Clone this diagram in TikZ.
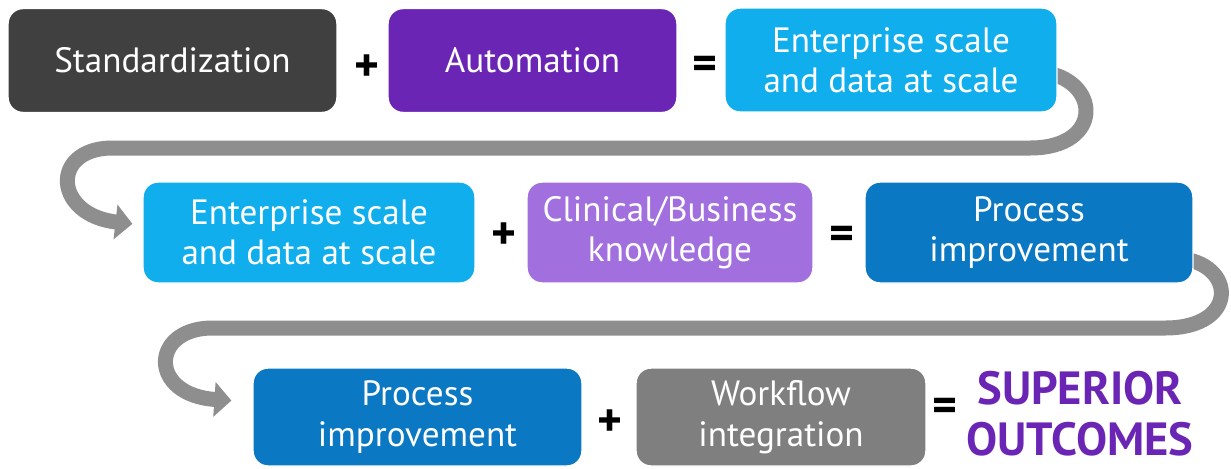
\documentclass[tikz,border=0pt]{standalone}
\usepackage{fontspec}
\setmainfont{PT Sans}
\usepackage{tikz}
\usetikzlibrary{arrows.meta}
\usetikzlibrary{backgrounds}

\definecolor{darkbox}{HTML}{404040}
\definecolor{purplebox}{HTML}{6A25B5}
\definecolor{skybox}{HTML}{10AEEC}
\definecolor{lilacbox}{HTML}{A26FDE}
\definecolor{bluebox}{HTML}{0A78C2}
\definecolor{greybox}{HTML}{7F7F7F}
\definecolor{ribbon}{HTML}{8E8E8E}

\tikzset{
  term/.style={shape=rectangle, rounded corners=0.3cm, draw=white, line width=0.8pt, text=white, align=center, inner sep=0pt, font=\fontsize{20}{23}\selectfont},
  op/.style={inner sep=0pt, font=\fontsize{27}{27}\bfseries\selectfont},
  turn/.style={draw=ribbon, line width=0.3cm, -{Triangle[length=0.34cm,width=0.68cm]}},
  result/.style={inner sep=0pt, align=center, text=purplebox, font=\fontsize{26.5}{29}\bfseries\selectfont},
}

\begin{document}
\begin{tikzpicture}[x=0.02cm, y=-0.02cm]
\useasboundingbox (0,0) rectangle (1231,468);
% first row
\node [term, fill=darkbox, minimum width=6.58cm, minimum height=2.08cm] (std) at (172.5,60.5) {Standardization};
\node [op] (plusa) at (367,68) {+};
\node [term, fill=purplebox, minimum width=5.78cm, minimum height=2.08cm] (aut) at (532.5,60.5) {Automation};
\node [op] (eqa) at (705,68) {=};
\node [term, fill=skybox, minimum width=6.64cm, minimum height=2.08cm] (enta) at (891,60) {Enterprise scale\\and data at scale};
% second row
\node [term, fill=skybox, minimum width=6.64cm, minimum height=2.02cm] (entb) at (309,232.5) {Enterprise scale\\and data at scale};
\node [op] (plusb) at (504,236) {+};
\node [term, fill=lilacbox, minimum width=5.72cm, minimum height=2.02cm] (clin) at (670,232.5) {Clinical/Business\\knowledge};
\node [op] (eqb) at (842,238) {=};
\node [term, fill=bluebox, minimum width=6.56cm, minimum height=2.02cm] (proca) at (1029,232.5) {Process\\improvement};
% third row
\node [term, fill=bluebox, minimum width=6.58cm, minimum height=1.96cm] (procb) at (417.5,417) {Process\\improvement};
\node [op] (plusc) at (610,423) {+};
\node [term, fill=greybox, minimum width=5.8cm, minimum height=1.96cm] (work) at (781,417) {Workflow\\integration};
\node [op] (eqc) at (945,410) {=};
\node [result] (out) at (1080,414) {SUPERIOR\\OUTCOMES};
% ribbons between the rows
\begin{scope}[on background layer]
\draw [turn, shorten >=0.2cm] ([shift={(-17,12)}]enta.east) .. controls +(60,6) and +(75,0) .. (1030,148) -- (110,148) .. controls +(-60,2) and +(-88,-10) .. ([yshift=0.15cm]entb.west);
\draw [turn, shorten >=0.42cm] ([shift={(-15,26)}]proca.east) .. controls +(57,4) and +(75,0) .. (1165,328) -- (210,328) .. controls +(-60,2) and +(-103,-7) .. ([yshift=0.3cm]procb.west);
\end{scope}
\end{tikzpicture}
\end{document}
